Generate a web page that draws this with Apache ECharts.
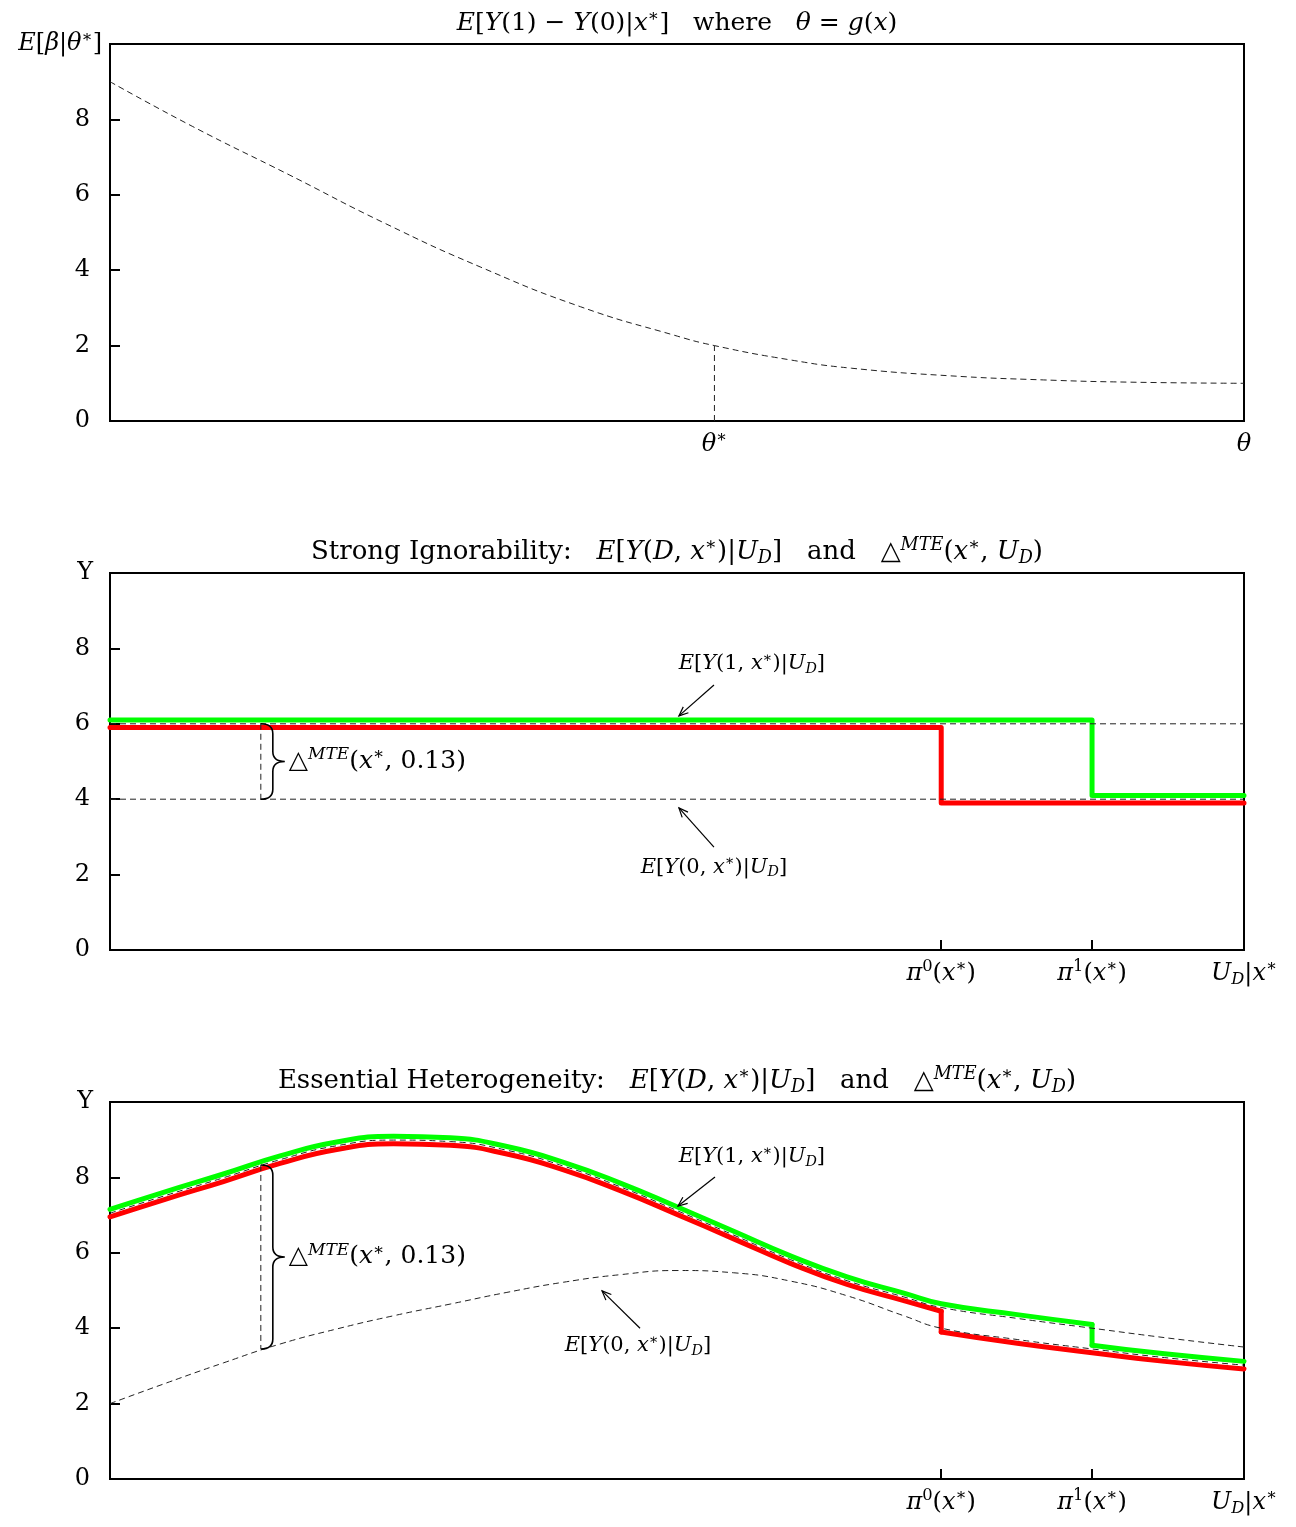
<!DOCTYPE html>
<html>
<head>
<meta charset="utf-8">
<title>MTE panels</title>
<script src="https://cdn.jsdelivr.net/npm/echarts@6/dist/echarts.min.js"></script>
<style>
  html, body { margin: 0; padding: 0; background: #fff; }
  #chart { width: 1296px; height: 1527px; }
</style>
</head>
<body>
<div id="chart"></div>
<script>
// ===== data (x runs 0..1) =====
const thetaStar = 0.533
const piZero = 0.733
const piOne = 0.866
const uMark = 0.133

// panel 1: E[beta | theta]
const thetaX = [0, 0.073, 0.158, 0.242, 0.327, 0.415, 0.497, 0.533, 0.6, 0.654, 0.74, 0.823, 0.9, 1.0]
const thetaY = [9.0, 7.81, 6.53, 5.25, 4.08, 3.03, 2.28, 2.0, 1.62, 1.4, 1.2, 1.09, 1.03, 1.0]

// panel 2: strong ignorability
const flatLevels = [6, 4]
const flatGreenX = [0, 0.866, 0.866, 1]
const flatGreenY = [6.1, 6.1, 4.1, 4.1]
const flatRedX = [0, 0.733, 0.733, 1]
const flatRedY = [5.9, 5.9, 3.9, 3.9]
const flatBrace = [uMark, 4, 6]

// panel 3: essential heterogeneity
const uX = [0, 0.05, 0.1, 0.15, 0.2, 0.25, 0.3, 0.35, 0.4, 0.45, 0.5, 0.55, 0.6, 0.65, 0.7, 0.733, 0.8, 0.866, 0.93, 1.0]
const meanY1 = [7.05, 7.53, 7.99, 8.47, 8.84, 8.99, 8.95, 8.72, 8.3, 7.75, 7.12, 6.47, 5.82, 5.26, 4.83, 4.55, 4.26, 4.0, 3.75, 3.5]
const meanY0 = [2.0, 2.55, 3.08, 3.58, 3.98, 4.33, 4.64, 4.95, 5.22, 5.42, 5.53, 5.47, 5.25, 4.86, 4.33, 4.0, 3.7, 3.45, 3.22, 3.02]
const greenLeftX = [0, 0.05, 0.1, 0.15, 0.2, 0.25, 0.3, 0.35, 0.4, 0.45, 0.5, 0.55, 0.6, 0.65, 0.7, 0.733, 0.8, 0.866]
const greenLeftY = [7.15, 7.63, 8.09, 8.57, 8.94, 9.09, 9.05, 8.82, 8.4, 7.85, 7.22, 6.57, 5.92, 5.36, 4.93, 4.65, 4.36, 4.1]
const greenRightX = [0.866, 0.93, 1.0]
const greenRightY = [3.55, 3.32, 3.12]
const redLeftX = [0, 0.05, 0.1, 0.15, 0.2, 0.25, 0.3, 0.35, 0.4, 0.45, 0.5, 0.55, 0.6, 0.65, 0.7, 0.733]
const redLeftY = [6.95, 7.43, 7.89, 8.37, 8.74, 8.89, 8.85, 8.62, 8.2, 7.65, 7.02, 6.37, 5.72, 5.16, 4.73, 4.45]
const redRightX = [0.733, 0.8, 0.866, 0.93, 1.0]
const redRightY = [3.9, 3.6, 3.35, 3.12, 2.92]
const hetBrace = [uMark, 3.45, 8.33]

// annotation arrows: [tailX, tailY, tipX, tipY]
const flatArrows = [[0.5326, 7.03, 0.5017, 6.21], [0.5326, 2.73, 0.5017, 3.77]]
const hetArrows = [[0.5335, 8.01, 0.5009, 7.24], [0.4674, 4.0, 0.4339, 4.99]]
// annotation label anchors: [x, y, labelIndex]
const flatNotes = [[0.566, 7.59, 0], [0.5326, 2.2, 1]]
const hetNotes = [[0.566, 8.54, 0], [0.4656, 3.53, 1]]

const yTicks = [0, 2, 4, 6, 8]

// ===== layout / style =====
const F = 'DejaVu Serif'
const plotLeft = 110
const plotWidth = 1134
const plotHeight = 377
const plotTops = [44, 573, 1102]
const GREEN = '#00ff00'
const RED = '#ff0000'
const DASH = [6, 4]

function richSet(size) {
  return {
    r: { fontFamily: F, fontSize: size, lineHeight: size * 1.2, color: '#000' },
    i: { fontFamily: F, fontSize: size, fontStyle: 'italic', lineHeight: size * 1.2, color: '#000' },
    sup: { fontFamily: F, fontSize: size * 0.68, fontStyle: 'italic', lineHeight: size * 0.55, verticalAlign: 'top', color: '#000' },
    supr: { fontFamily: F, fontSize: size * 0.68, lineHeight: size * 0.55, verticalAlign: 'top', color: '#000' },
    sub: { fontFamily: F, fontSize: size * 0.68, fontStyle: 'italic', lineHeight: size * 0.7, verticalAlign: 'bottom', color: '#000' }
  }
}

const labelEY1 = '{i|E}{r|[}{i|Y}{r|(1, }{i|x}{sup|∗}{r|)|}{i|U}{sub|D}{r|]}'
const labelEY0 = '{i|E}{r|[}{i|Y}{r|(0, }{i|x}{sup|∗}{r|)|}{i|U}{sub|D}{r|]}'
const noteLabels = [labelEY1, labelEY0]
const mteLabel = '{r|△}{sup|MTE}{r|(}{i|x}{sup|∗}{r|, 0.13)}'

const titleTexts = [
  '{i|E}{r|[}{i|Y}{r|(1) − }{i|Y}{r|(0)|}{i|x}{sup|∗}{r|]   where   }{i|θ}{r| = }{i|g}{r|(}{i|x}{r|)}',
  '{r|Strong Ignorability:   }{i|E}{r|[}{i|Y}{r|(}{i|D}{r|, }{i|x}{sup|∗}{r|)|}{i|U}{sub|D}{r|]   and   △}{sup|MTE}{r|(}{i|x}{sup|∗}{r|, }{i|U}{sub|D}{r|)}',
  '{r|Essential Heterogeneity:   }{i|E}{r|[}{i|Y}{r|(}{i|D}{r|, }{i|x}{sup|∗}{r|)|}{i|U}{sub|D}{r|]   and   △}{sup|MTE}{r|(}{i|x}{sup|∗}{r|, }{i|U}{sub|D}{r|)}'
]
const titleSizes = [25, 26, 26]
const yNames = ['{i|E}{r|[}{i|β}{r||}{i|θ}{sup|∗}{r|]}', '{r|Y}', '{r|Y}']

const xTickText = [
  { values: [thetaStar, 1], labels: ['{i|θ}{sup|∗}', '{i|θ}'], ticks: [] },
  { values: [piZero, piOne, 1], labels: ['{i|π}{supr|0}{r|(}{i|x}{sup|∗}{r|)}', '{i|π}{supr|1}{r|(}{i|x}{sup|∗}{r|)}', '{i|U}{sub|D}{r||}{i|x}{sup|∗}'], ticks: [piZero, piOne] },
  { values: [piZero, piOne, 1], labels: ['{i|π}{supr|0}{r|(}{i|x}{sup|∗}{r|)}', '{i|π}{supr|1}{r|(}{i|x}{sup|∗}{r|)}', '{i|U}{sub|D}{r||}{i|x}{sup|∗}'], ticks: [piZero, piOne] }
]

function zip(xs, ys) {
  return xs.map((x, k) => [x, ys[k]])
}

// ===== custom renderers =====
function renderBrace(params, api) {
  const x = api.value(0)
  const top = api.coord([x, api.value(2)])
  const bot = api.coord([x, api.value(1)])
  const x0 = top[0]
  const y0 = top[1]
  const y1 = bot[1]
  const ym = (y0 + y1) / 2
  const w = 12
  const r = 10
  const d = [
    'M', x0, y0, 'Q', x0 + w, y0, x0 + w, y0 + r,
    'L', x0 + w, ym - r, 'Q', x0 + w, ym, x0 + 2 * w, ym,
    'Q', x0 + w, ym, x0 + w, ym + r,
    'L', x0 + w, y1 - r, 'Q', x0 + w, y1, x0, y1
  ].join(' ')
  return {
    type: 'group',
    children: [
      { type: 'line', shape: { x1: x0, y1: y0, x2: x0, y2: y1 }, style: { stroke: '#222', lineWidth: 1, lineDash: DASH } },
      { type: 'path', shape: { pathData: d }, style: { stroke: '#000', lineWidth: 1.6, fill: null } },
      { type: 'text', x: x0 + 2 * w + 4, y: ym, style: { text: mteLabel, rich: richSet(25), align: 'left', verticalAlign: 'middle' } }
    ]
  }
}

function renderArrow(params, api) {
  const a = api.coord([api.value(0), api.value(1)])
  const b = api.coord([api.value(2), api.value(3)])
  const ang = Math.atan2(a[1] - b[1], a[0] - b[0])
  const len = 10
  const spread = 0.4
  const h1 = [b[0] + len * Math.cos(ang + spread), b[1] + len * Math.sin(ang + spread)]
  const h2 = [b[0] + len * Math.cos(ang - spread), b[1] + len * Math.sin(ang - spread)]
  const st = { stroke: '#000', lineWidth: 1.2, fill: null }
  return {
    type: 'group',
    children: [
      { type: 'line', shape: { x1: a[0], y1: a[1], x2: b[0], y2: b[1] }, style: st },
      { type: 'polyline', shape: { points: [h1, b, h2] }, style: st }
    ]
  }
}

function renderNote(params, api) {
  const p = api.coord([api.value(0), api.value(1)])
  return {
    type: 'text', x: p[0], y: p[1],
    style: { text: noteLabels[api.value(2)], rich: richSet(21), align: 'center', verticalAlign: 'middle' }
  }
}

// ===== series builders =====
function dashedLine(grid, data, smooth) {
  return {
    type: 'line', xAxisIndex: grid, yAxisIndex: grid, data, smooth: smooth ? 0.5 : false,
    symbol: 'none', silent: true, z: 4,
    lineStyle: { color: '#222', width: 1, type: DASH }
  }
}

function thickLine(grid, data, color, smooth) {
  return {
    type: 'line', xAxisIndex: grid, yAxisIndex: grid, data, smooth: smooth ? 0.5 : false,
    symbol: 'none', silent: true, z: 3,
    lineStyle: { color, width: 5, cap: 'round', join: 'round' }
  }
}

function customSeries(grid, data, renderItem) {
  return {
    type: 'custom', xAxisIndex: grid, yAxisIndex: grid, coordinateSystem: 'cartesian2d',
    data, renderItem, silent: true, z: 5, clip: false
  }
}

const series = [
  // panel 1
  dashedLine(0, zip(thetaX, thetaY), true),
  dashedLine(0, [[thetaStar, 0], [thetaStar, thetaY[thetaX.indexOf(thetaStar)]]], false),

  // panel 2
  ...flatLevels.map(v => dashedLine(1, [[0, v], [1, v]], false)),
  thickLine(1, zip(flatGreenX, flatGreenY), GREEN, false),
  thickLine(1, zip(flatRedX, flatRedY), RED, false),
  customSeries(1, [flatBrace], renderBrace),
  customSeries(1, flatArrows, renderArrow),
  customSeries(1, flatNotes, renderNote),

  // panel 3
  thickLine(2, zip(greenLeftX, greenLeftY), GREEN, true),
  thickLine(2, [[piOne, greenLeftY[greenLeftY.length - 1]], [piOne, greenRightY[0]]], GREEN, false),
  thickLine(2, zip(greenRightX, greenRightY), GREEN, true),
  thickLine(2, zip(redLeftX, redLeftY), RED, true),
  thickLine(2, [[piZero, redLeftY[redLeftY.length - 1]], [piZero, redRightY[0]]], RED, false),
  thickLine(2, zip(redRightX, redRightY), RED, true),
  dashedLine(2, zip(uX, meanY1), true),
  dashedLine(2, zip(uX, meanY0), true),
  customSeries(2, [hetBrace], renderBrace),
  customSeries(2, hetArrows, renderArrow),
  customSeries(2, hetNotes, renderNote)
]

// ===== axes =====
const grids = plotTops.map(top => ({
  left: plotLeft, top, width: plotWidth, height: plotHeight,
  show: true, borderColor: '#000', borderWidth: 2, backgroundColor: 'transparent',
  containLabel: false, outerBoundsMode: 'none'
}))

const xAxes = plotTops.map((_, k) => ({
  type: 'value', gridIndex: k, min: 0, max: 1,
  splitLine: { show: false },
  axisLine: { lineStyle: { color: '#000', width: 2 } },
  axisTick: { show: xTickText[k].ticks.length > 0, inside: true, length: 10, customValues: xTickText[k].ticks, lineStyle: { color: '#000', width: 2 } },
  axisLabel: {
    customValues: xTickText[k].values,
    margin: 9,
    formatter(v) {
      const idx = xTickText[k].values.findIndex(t => Math.abs(t - v) < 1e-6)
      return idx >= 0 ? xTickText[k].labels[idx] : ''
    },
    rich: richSet(24)
  }
}))

const yAxes = plotTops.map((_, k) => ({
  type: 'value', gridIndex: k, min: 0, max: 10,
  name: yNames[k],
  nameLocation: 'end',
  nameGap: 0,
  nameTextStyle: {
    align: 'right', verticalAlign: 'middle',
    padding: k === 0 ? [0, 8, 0, 0] : [0, 17, 0, 0],
    rich: richSet(24)
  },
  splitLine: { show: false },
  axisLine: { lineStyle: { color: '#000', width: 2 } },
  axisTick: { inside: true, length: 10, customValues: yTicks, lineStyle: { color: '#000', width: 2 } },
  axisLabel: { customValues: yTicks, margin: 20, fontFamily: F, fontSize: 24, color: '#000' }
}))

const titleGraphics = titleTexts.map((text, k) => ({
  type: 'text',
  x: plotLeft + plotWidth / 2,
  y: plotTops[k] - 21,
  style: { text, rich: richSet(titleSizes[k]), align: 'center', verticalAlign: 'middle' }
}))

const chart = echarts.init(document.getElementById('chart'), null, { renderer: 'canvas' })
chart.setOption({
  animation: false,
  backgroundColor: '#fff',
  textStyle: { fontFamily: F },
  grid: grids,
  xAxis: xAxes,
  yAxis: yAxes,
  series,
  graphic: titleGraphics
})
</script>
</body>
</html>
